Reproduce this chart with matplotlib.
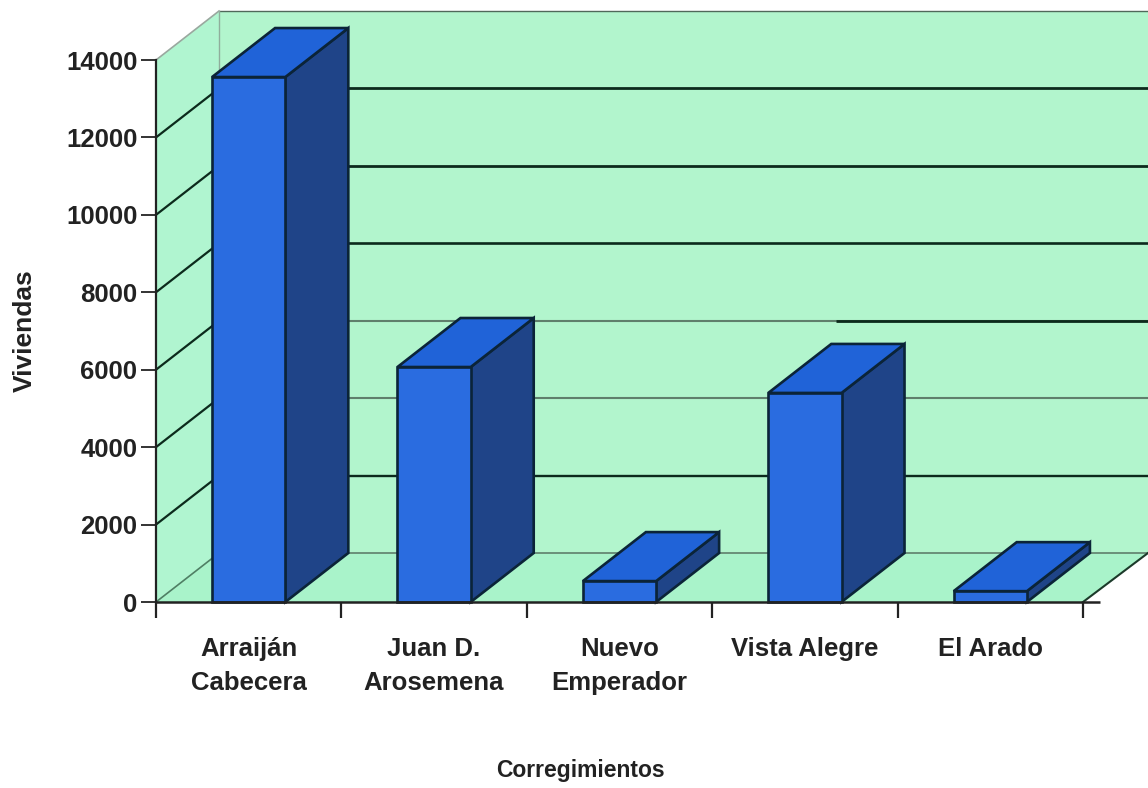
import matplotlib
matplotlib.use("Agg")
import matplotlib.pyplot as plt
from matplotlib.patches import Polygon

categories = ["Arraiján\nCabecera", "Juan D.\nArosemena", "Nuevo\nEmperador", "Vista Alegre", "El Arado"]
viviendas = [13560, 6070, 540, 5400, 280]
y_ticks = [0, 2000, 4000, 6000, 8000, 10000, 12000, 14000]
x_label = "Corregimientos"
y_label = "Viviendas"

W, H = 1148, 788
L, R, B, T = 156, 1083, 602, 60
DX_PX, DY_PX = 63, 49
BAR_W = 0.395

plt.rcParams['font.family'] = ['Liberation Sans', 'DejaVu Sans']
plt.rcParams['font.weight'] = 'bold'

fig = plt.figure(figsize=(W / 100, H / 100), dpi=100, facecolor='white')
ax = fig.add_axes([L / W, 1 - B / H, (R - L) / W, (B - T) / H])
ax.set_xlim(-0.5, 4.5)
ax.set_ylim(0, 14000)
ax.patch.set_visible(False)
for s in ['top', 'right', 'bottom']:
    ax.spines[s].set_visible(False)
ax.spines['left'].set_linewidth(1.6)
ax.spines['left'].set_color('#222222')

ux = (R - L) / 5
uy = (B - T) / 14000
dx = DX_PX / ux
dy = DY_PX / uy
xmin, xmax = -0.5, 4.5
right_edge = (W - L) / ux - 0.5
axis_end = (1100 - L) / ux - 0.5

WALL = '#b2f5cd'
SIDE = '#b0f5d0'
FLOOR = '#a9f3ca'
kw = dict(clip_on=False)

# back wall
ax.add_patch(Polygon([(xmin + dx, dy), (right_edge, dy), (right_edge, 14000 + dy), (xmin + dx, 14000 + dy)],
                     fc=WALL, ec='none', zorder=0.5, **kw))
# left wall
ax.add_patch(Polygon([(xmin, 0), (xmin + dx, dy), (xmin + dx, 14000 + dy), (xmin, 14000)],
                     fc=SIDE, ec='none', zorder=0.6, **kw))
# floor
ax.add_patch(Polygon([(xmin, 0), (xmax, 0), (right_edge, dy), (xmin + dx, dy)],
                     fc=FLOOR, ec='none', zorder=0.7, **kw))

# grid on walls
DARK_LINE = '#0c2a1c'
GREY_LINE = '#5f7f6c'
back_color = {0: GREY_LINE, 2000: DARK_LINE, 4000: GREY_LINE, 6000: GREY_LINE, 8000: DARK_LINE,
              10000: DARK_LINE, 12000: DARK_LINE, 14000: '#50685a'}
back_width = {0: 1.2, 2000: 1.7, 4000: 1.5, 6000: 1.5, 8000: 1.9, 10000: 2.0, 12000: 2.0, 14000: 1.0}
side_color = {0: '#4f7f64', 2000: DARK_LINE, 4000: DARK_LINE, 6000: DARK_LINE, 8000: DARK_LINE,
              10000: DARK_LINE, 12000: DARK_LINE, 14000: '#9aa89f'}
for t in y_ticks:
    ax.plot([xmin + dx, right_edge], [t + dy, t + dy], color=back_color[t], lw=back_width[t],
            zorder=0.9, solid_capstyle='butt', **kw)
    ax.plot([xmin, xmin + dx], [t, t + dy], color=side_color[t], lw=1.6 if 0 < t < 14000 else 1.2,
            zorder=0.9, **kw)
ax.plot([(836 - L) / ux - 0.5, right_edge], [6000 + dy, 6000 + dy], color=DARK_LINE, lw=2.0,
        zorder=0.95, solid_capstyle='butt', **kw)
ax.plot([xmin + dx, xmin + dx], [dy, 14000 + dy], color='#8fae9c', lw=1.0, zorder=0.9, **kw)
ax.plot([xmax, right_edge], [0, dy], color='#1c3a2a', lw=1.5, zorder=0.9, **kw)
# baseline with its overhang past the last tick
ax.plot([xmin, axis_end], [0, 0], color='#222222', lw=1.8, zorder=5, solid_capstyle='butt', **kw)

# bars
FRONT = '#2a6ce0'
TOP = '#2063d8'
DARK = '#1f4488'
EDGE = '#0b2438'
for i, v in enumerate(viviendas):
    x0, x1 = i - BAR_W / 2, i + BAR_W / 2
    ax.bar(i, v, width=BAR_W, color=FRONT, edgecolor=EDGE, linewidth=1.9, zorder=3, clip_on=False)
    ax.add_patch(Polygon([(x1, 0), (x1 + dx, dy), (x1 + dx, v + dy), (x1, v)],
                         fc=DARK, ec=EDGE, lw=1.9, zorder=2, **kw))
    ax.add_patch(Polygon([(x0, v), (x1, v), (x1 + dx, v + dy), (x0 + dx, v + dy)],
                         fc=TOP, ec=EDGE, lw=1.9, zorder=2, **kw))

# axes ticks and labels
ax.set_yticks(y_ticks)
ax.tick_params(axis='y', length=11, width=1.4, labelsize=18.5, pad=2.5, color='#333333', labelcolor='#222222')
ax.set_xticks([i - 0.5 for i in range(6)])
ax.set_xticklabels([])
ax.tick_params(axis='x', which='major', length=11.5, width=1.6, color='#222222')
ax.set_xticks(range(5), minor=True)
ax.set_xticklabels(categories, minor=True, fontsize=18.5, linespacing=1.55, va='top', color='#222222')
ax.tick_params(axis='x', which='minor', length=0, pad=25)

fig.text(580 / W, 1 - 771 / H, x_label, ha='center', va='center', fontsize=16.5, fontweight='bold', color='#222222')
fig.text(25 / W, 1 - 331 / H, y_label, ha='center', va='center', rotation=90, fontsize=19, fontweight='bold', color='#222222')

fig.savefig('out.png', dpi=100, facecolor='white')
